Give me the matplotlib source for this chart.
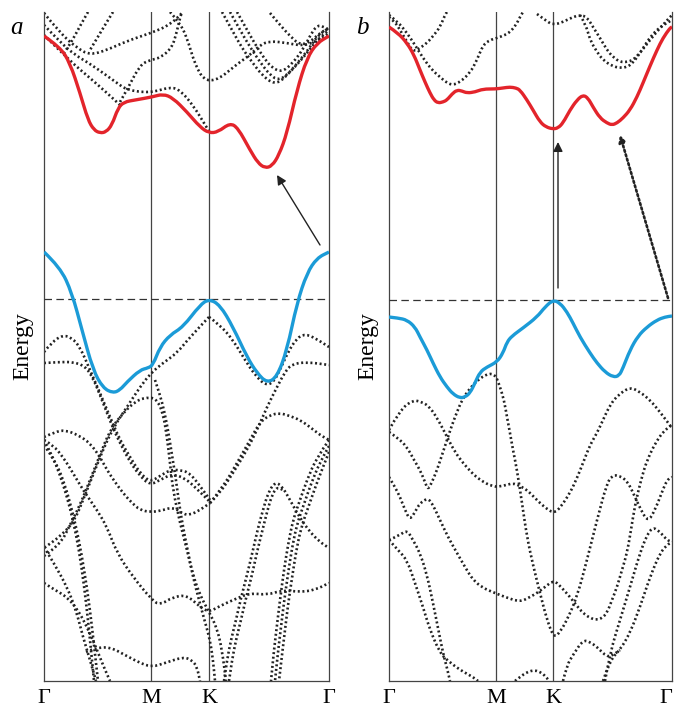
import numpy as np
import matplotlib
matplotlib.use("Agg")
import matplotlib.pyplot as plt
from matplotlib.path import Path
from matplotlib.patches import PathPatch

# k-path position (arbitrary units, Gamma = 0) and energy (eV, E_F = 0)
kticks_a = [0, 107, 165, 285]
kticks_b = [0, 107, 164, 283]
klabels = ["Γ", "M", "K", "Γ"]
elim_a = (-3.82, 2.87)
elim_b = (-3.81, 2.88)

# ---- panel a ----
cb_a = [(0, 2.63), (16, 2.52), (26, 2.36), (36, 2.06), (44, 1.79), (50, 1.69), (56, 1.66),
        (62, 1.67), (68, 1.74), (74, 1.91), (80, 1.97), (91, 1.99), (108, 2.02), (119, 2.05),
        (129, 2.01), (143, 1.87), (156, 1.72), (165, 1.66), (174, 1.67), (186, 1.76), (194, 1.71),
        (206, 1.49), (214, 1.36), (221, 1.31), (228, 1.33), (235, 1.44), (243, 1.66), (253, 2.09),
        (263, 2.41), (273, 2.56), (285, 2.63)]
vb_a = [(0, 0.47), (16, 0.32), (28, 0.06), (38, -0.31), (49, -0.71), (59, -0.89), (69, -0.94),
        (76, -0.91), (83, -0.83), (96, -0.71), (104, -0.69), (109, -0.66), (116, -0.48),
        (126, -0.36), (139, -0.28), (156, -0.06), (165, 0.0), (176, -0.06), (189, -0.28),
        (203, -0.58), (213, -0.74), (223, -0.84), (233, -0.78), (243, -0.51), (253, -0.04),
        (263, 0.26), (273, 0.41), (285, 0.47)]

bands_a = [
    # conduction side
    [(0, 2.86), (16, 2.66), (33, 2.51), (46, 2.44), (63, 2.49), (83, 2.58), (107, 2.66), (126, 2.74), (139, 2.87)],
    [(0, 2.74), (16, 2.57), (31, 2.44), (48, 2.34), (73, 2.16), (83, 2.09), (106, 2.06), (126, 2.12),
     (136, 2.09), (149, 1.94), (163, 1.71), (165, 1.68)],
    [(0, 2.64), (26, 2.38), (46, 2.21), (63, 2.06), (76, 1.94)],
    [(76, 1.97), (84, 2.11), (96, 2.34), (106, 2.39), (116, 2.41), (128, 2.51), (133, 2.68), (136, 2.81), (138, 2.87)],
    [(126, 2.87), (136, 2.76), (143, 2.61), (149, 2.41), (154, 2.29), (159, 2.21), (166, 2.18), (176, 2.21),
     (186, 2.29), (196, 2.37), (206, 2.44), (216, 2.54), (226, 2.58), (243, 2.56), (259, 2.53), (273, 2.58), (285, 2.66)],
    [(178, 2.87), (188, 2.69), (198, 2.51), (208, 2.37), (218, 2.24), (228, 2.16), (236, 2.17), (246, 2.27),
     (259, 2.41), (273, 2.59), (285, 2.69)],
    [(186, 2.87), (196, 2.69), (206, 2.52), (216, 2.37), (226, 2.24), (234, 2.19), (242, 2.23), (252, 2.34),
     (264, 2.49), (274, 2.64), (285, 2.71)],
    [(193, 2.87), (202, 2.71), (211, 2.55), (220, 2.41), (228, 2.31), (238, 2.27), (248, 2.35), (260, 2.51),
     (268, 2.67), (274, 2.74), (280, 2.72), (285, 2.69)],
    [(226, 2.86), (236, 2.74), (246, 2.63), (256, 2.54), (266, 2.57), (276, 2.66), (285, 2.71)],
    [(44, 2.87), (36, 2.73), (28, 2.58), (20, 2.46)],
    [(69, 2.87), (61, 2.74), (52, 2.59), (46, 2.49)],
    # valence side
    [(0, -0.53), (8, -0.43), (19, -0.36), (28, -0.39), (36, -0.48), (46, -0.71), (56, -0.94), (66, -1.18),
     (76, -1.41), (86, -1.58), (96, -1.74), (106, -1.83), (116, -1.77), (126, -1.71), (136, -1.71),
     (146, -1.74), (159, -1.91), (166, -2.01)],
    [(0, -0.64), (16, -0.63), (29, -0.63), (41, -0.67), (49, -0.79), (56, -0.96), (63, -1.14), (69, -1.29),
     (76, -1.44), (86, -1.63), (96, -1.77), (106, -1.86), (116, -1.81), (128, -1.75), (141, -1.79),
     (154, -1.91), (166, -2.03)],
    [(0, -1.38), (11, -1.33), (21, -1.31), (34, -1.36), (46, -1.44), (56, -1.58), (63, -1.71), (71, -1.83),
     (79, -1.94), (88, -2.04), (96, -2.11), (106, -2.13), (116, -2.12), (129, -2.08), (139, -2.15),
     (146, -2.16), (156, -2.11), (166, -2.04)],
    [(166, -2.04), (176, -1.94), (189, -1.74), (203, -1.51), (213, -1.31), (223, -1.08), (233, -0.88),
     (241, -0.73), (248, -0.65), (263, -0.63), (285, -0.66)],
    [(166, -2.04), (179, -1.88), (193, -1.64), (206, -1.41), (216, -1.23), (226, -1.16), (236, -1.14),
     (246, -1.17), (256, -1.21), (266, -1.28), (276, -1.36), (285, -1.41)],
    [(165, -0.18), (176, -0.26), (189, -0.41), (201, -0.61), (211, -0.76), (221, -0.86), (229, -0.84),
     (236, -0.71), (244, -0.53), (253, -0.39), (261, -0.35), (271, -0.39), (285, -0.48)],
    [(165, -0.18), (146, -0.38), (133, -0.54), (119, -0.64), (107, -0.74), (96, -0.88), (83, -1.08),
     (71, -1.26), (61, -1.46), (51, -1.71), (41, -1.96), (31, -2.21), (18, -2.36), (0, -2.49)],
    [(0, -2.57), (16, -2.46), (26, -2.26), (36, -2.06), (46, -1.81), (56, -1.56), (66, -1.31), (79, -1.14),
     (93, -1.01), (106, -0.98), (113, -1.01), (119, -1.14), (123, -1.38), (126, -1.64), (129, -1.91),
     (136, -2.24), (143, -2.51), (149, -2.76), (156, -2.96), (165, -3.13), (173, -3.29), (178, -3.51), (182, -3.82)],
    [(111, -0.81), (116, -0.96), (120, -1.11), (124, -1.31), (128, -1.56), (132, -1.81), (135, -2.04),
     (139, -2.28), (144, -2.53), (149, -2.78), (155, -3.01), (161, -3.23), (166, -3.41), (169, -3.61), (171, -3.82)],
    [(0, -1.41), (9, -1.46), (19, -1.58), (29, -1.74), (39, -1.91), (53, -2.11), (63, -2.28), (73, -2.54),
     (89, -2.78), (108, -3.01), (116, -3.06), (129, -2.98), (143, -2.96), (156, -3.08), (165, -3.13),
     (176, -3.07), (189, -3.01), (206, -2.94), (223, -2.96), (239, -2.91), (256, -2.93), (271, -2.91), (285, -2.84)],
    [(180, -3.82), (183, -3.61), (187, -3.41), (192, -3.21), (197, -2.99), (203, -2.76), (209, -2.51),
     (214, -2.29), (219, -2.11), (224, -1.94), (231, -1.83), (238, -1.87), (246, -2.01), (256, -2.19),
     (266, -2.33), (276, -2.43), (285, -2.49)],
    [(185, -3.82), (188, -3.61), (192, -3.41), (197, -3.21), (202, -2.99), (208, -2.76), (213, -2.53),
     (218, -2.33), (223, -2.13), (228, -1.96), (233, -1.88), (239, -1.91)],
    [(285, -1.41), (273, -1.58), (263, -1.81), (256, -2.01), (249, -2.21), (244, -2.46), (240, -2.71),
     (236, -3.01), (233, -3.26), (230, -3.51), (227, -3.82)],
    [(285, -1.47), (276, -1.63), (267, -1.85), (260, -2.05), (253, -2.25), (248, -2.49), (244, -2.75),
     (240, -3.03), (237, -3.28), (234, -3.53), (231, -3.82)],
    [(285, -1.53), (279, -1.68), (271, -1.89), (264, -2.09), (257, -2.29), (252, -2.53), (248, -2.79),
     (244, -3.06), (241, -3.31), (238, -3.56), (235, -3.82)],
    [(0, -1.41), (8, -1.56), (16, -1.76), (23, -1.98), (29, -2.21), (35, -2.51), (40, -2.86), (44, -3.21),
     (47, -3.51), (50, -3.82)],
    [(0, -1.46), (12, -1.63), (21, -1.86), (28, -2.11), (35, -2.41), (41, -2.76), (46, -3.11), (50, -3.46), (54, -3.82)],
    [(0, -2.48), (11, -2.66), (23, -2.88), (32, -3.11), (39, -3.38), (46, -3.61), (52, -3.82)],
    [(0, -2.84), (11, -2.91), (23, -2.98), (34, -3.11), (43, -3.28), (51, -3.46), (59, -3.66), (66, -3.82)],
    [(42, -3.53), (51, -3.49), (66, -3.48), (81, -3.56), (96, -3.64), (108, -3.68), (121, -3.64),
     (139, -3.58), (148, -3.61), (153, -3.68), (156, -3.82)],
]

# ---- panel b ----
cb_b = [(0, 2.73), (9, 2.67), (18, 2.57), (25, 2.45), (31, 2.30), (36, 2.18), (41, 2.07), (45, 2.00),
        (49, 1.97), (54, 1.98), (58, 2.00), (63, 2.06), (68, 2.10), (73, 2.09), (78, 2.07), (86, 2.08),
        (94, 2.11), (106, 2.11), (114, 2.12), (121, 2.13), (127, 2.12), (131, 2.10), (138, 2.00),
        (144, 1.90), (151, 1.78), (157, 1.73), (164, 1.71), (169, 1.72), (174, 1.77), (181, 1.90),
        (188, 2.00), (194, 2.05), (199, 2.02), (204, 1.93), (211, 1.82), (218, 1.77), (223, 1.75),
        (228, 1.77), (234, 1.82), (241, 1.90), (248, 2.03), (254, 2.17), (261, 2.34), (268, 2.50),
        (274, 2.62), (281, 2.72), (283, 2.73)]
vb_b = [(0, -0.17), (9, -0.18), (18, -0.20), (26, -0.27), (31, -0.37), (38, -0.50), (44, -0.63),
        (51, -0.77), (58, -0.87), (64, -0.94), (71, -0.98), (76, -0.97), (81, -0.93), (86, -0.83),
        (91, -0.72), (98, -0.67), (108, -0.62), (114, -0.53), (118, -0.42), (123, -0.36), (134, -0.28),
        (148, -0.17), (156, -0.07), (164, 0.0), (171, -0.03), (178, -0.12), (184, -0.23), (191, -0.37),
        (201, -0.53), (208, -0.63), (216, -0.72), (224, -0.77), (230, -0.76), (234, -0.68), (241, -0.50),
        (249, -0.36), (258, -0.27), (268, -0.20), (276, -0.17), (283, -0.16)]

bands_b = [
    [(0, 2.85), (9, 2.78), (18, 2.67), (26, 2.55), (34, 2.42), (43, 2.30), (51, 2.23), (58, 2.17),
     (64, 2.15), (71, 2.18), (81, 2.27), (88, 2.40), (94, 2.55), (101, 2.60), (108, 2.62), (116, 2.65),
     (121, 2.68), (127, 2.75), (131, 2.83), (134, 2.88)],
    [(0, 2.83), (6, 2.78), (11, 2.70), (17, 2.60), (24, 2.48), (31, 2.52), (38, 2.57), (45, 2.65),
     (51, 2.73), (56, 2.85), (58, 2.88)],
    [(148, 2.86), (156, 2.80), (164, 2.75), (174, 2.78), (184, 2.83), (191, 2.85), (198, 2.83), (204, 2.73),
     (211, 2.62), (218, 2.50), (224, 2.43), (231, 2.38), (238, 2.38), (244, 2.40), (251, 2.47), (261, 2.60),
     (271, 2.72), (283, 2.85)],
    [(191, 2.85), (197, 2.75), (201, 2.60), (208, 2.48), (214, 2.40), (223, 2.34), (231, 2.32), (238, 2.33),
     (244, 2.37), (253, 2.50), (261, 2.63), (271, 2.73), (283, 2.80)],
    [(0, -1.30), (11, -1.10), (24, -1.00), (33, -1.02), (41, -1.07), (51, -1.23), (58, -1.37), (66, -1.52),
     (74, -1.63), (83, -1.73), (91, -1.80), (104, -1.87), (114, -1.86), (124, -1.83), (131, -1.86),
     (138, -1.90), (146, -1.98), (151, -2.03), (158, -2.09), (165, -2.13), (171, -2.08), (181, -1.93),
     (188, -1.78), (194, -1.63), (201, -1.45), (208, -1.33), (214, -1.20), (221, -1.05), (229, -0.95),
     (241, -0.87), (251, -0.92), (261, -1.00), (271, -1.12), (283, -1.28)],
    [(0, -1.32), (9, -1.38), (18, -1.47), (25, -1.60), (31, -1.70), (36, -1.82), (39, -1.90), (43, -1.82),
     (48, -1.70), (53, -1.55), (58, -1.40), (63, -1.25), (68, -1.12), (73, -1.00), (81, -0.88), (91, -0.78),
     (101, -0.73), (107, -0.76), (111, -0.87), (115, -1.00), (118, -1.17), (121, -1.33), (124, -1.50),
     (128, -1.70), (133, -2.03), (138, -2.37), (144, -2.65), (151, -2.93), (158, -3.20), (165, -3.38),
     (171, -3.32), (178, -3.20), (188, -2.97), (198, -2.60), (208, -2.20), (218, -1.83), (223, -1.76),
     (228, -1.75), (238, -1.80), (246, -1.97), (252, -2.10), (259, -2.22), (266, -2.10), (273, -1.92),
     (278, -1.80), (283, -1.77)],
    [(0, -1.77), (6, -1.87), (11, -1.97), (16, -2.10), (21, -2.20), (26, -2.12), (31, -2.03), (39, -1.98),
     (44, -2.05), (51, -2.20), (59, -2.37), (68, -2.53), (76, -2.67), (84, -2.80), (94, -2.88), (106, -2.93),
     (116, -2.97), (131, -3.02), (141, -2.97), (148, -2.93), (156, -2.87), (165, -2.80), (173, -2.88),
     (181, -2.97), (188, -3.06), (194, -3.13), (201, -3.18), (208, -3.20), (213, -3.18), (218, -3.13),
     (223, -3.00), (228, -2.87), (233, -2.70), (238, -2.53), (242, -2.30), (246, -2.05), (252, -1.80),
     (258, -1.60), (268, -1.40), (276, -1.30), (283, -1.25)],
    [(216, -3.81), (221, -3.53), (231, -3.20), (241, -2.87), (251, -2.53), (258, -2.35), (264, -2.27),
     (271, -2.32), (278, -2.40), (283, -2.42)],
    [(214, -3.81), (221, -3.60), (231, -3.50), (241, -3.33), (251, -3.07), (261, -2.77), (271, -2.53),
     (278, -2.45), (283, -2.42)],
    [(174, -3.81), (178, -3.65), (184, -3.55), (194, -3.40), (201, -3.42), (208, -3.47), (218, -3.57),
     (224, -3.55), (231, -3.50)],
    [(0, -2.40), (11, -2.35), (18, -2.30), (24, -2.40), (31, -2.53), (38, -2.75), (44, -3.03), (49, -3.28),
     (54, -3.53), (58, -3.68), (61, -3.81)],
    [(0, -2.40), (9, -2.50), (18, -2.60), (26, -2.83), (34, -3.07), (41, -3.30), (51, -3.53), (58, -3.60),
     (71, -3.70), (84, -3.77), (89, -3.81)],
    [(126, -3.81), (131, -3.77), (138, -3.72), (146, -3.70), (153, -3.73), (158, -3.78), (160, -3.81)],
]

# transitions: (tail, head)
arrow_a = ((276, 0.54), (233, 1.24))
arrow_b_direct = ((169, 0.12), (169, 1.58))
arrow_b_indirect = ((279, 0.02), (231, 1.65))

RED = "#e3242b"
BLUE = "#1b9bd7"
DOT = "#222222"
DOTS = (0, (0.75, 1.0))

plt.rcParams["font.family"] = ["Liberation Serif", "DejaVu Serif"]

fig = plt.figure(figsize=(6.76, 7.10), dpi=100)
ax_a = fig.add_axes([44 / 676, 29 / 710, 285 / 676, 669 / 710])
ax_b = fig.add_axes([389 / 676, 29 / 710, 283 / 676, 669 / 710])


def smooth_curve(ax, pts, **kw):
    # quadratic Bezier through the midpoints, the read points act as control points
    p = np.asarray(pts, dtype=float)
    verts = [p[0]]
    codes = [Path.MOVETO]
    for i in range(1, len(p) - 1):
        verts += [p[i], (p[i] + p[i + 1]) / 2]
        codes += [Path.CURVE3, Path.CURVE3]
    verts.append(p[-1])
    codes.append(Path.LINETO)
    ax.add_patch(PathPatch(Path(verts, codes), fill=False, capstyle="butt",
                           joinstyle="round", **kw))


def draw_panel(ax, kt, elim, bands, cb, vb, letter):
    for band in bands:
        smooth_curve(ax, band, edgecolor=DOT, lw=1.9, linestyle=DOTS, zorder=2)
    smooth_curve(ax, cb, edgecolor=RED, lw=2.4, zorder=4)
    smooth_curve(ax, vb, edgecolor=BLUE, lw=2.4, zorder=4)
    ax.axhline(0, color="#333333", lw=0.9, linestyle=(0, (6, 3.5)), zorder=3)
    for kv in kt[1:-1]:
        ax.axvline(kv, color="#444444", lw=0.9, zorder=1)
    ax.set_xlim(kt[0], kt[-1])
    ax.set_ylim(*elim)
    ax.set_xticks(kt)
    ax.set_xticklabels(klabels, fontsize=16)
    ax.set_yticks([])
    ax.tick_params(axis="x", length=0, pad=6)
    ax.spines["top"].set_visible(False)
    for s in ["left", "right", "bottom"]:
        ax.spines[s].set_color("#444444")
        ax.spines[s].set_linewidth(0.9)
    ax.set_ylabel("Energy", fontsize=17, labelpad=8)
    ax.text(-0.095, 0.976, letter, transform=ax.transAxes, fontsize=18,
            style="italic", ha="center", va="center")


draw_panel(ax_a, kticks_a, elim_a, bands_a, cb_a, vb_a, "a")
draw_panel(ax_b, kticks_b, elim_b, bands_b, cb_b, vb_b, "b")

# the last Γ of panel b sits at the figure edge: anchor it by its right side
ax_b.get_xticklabels()[-1].set_horizontalalignment("right")

ax_a.annotate("", xy=arrow_a[1], xytext=arrow_a[0],
              arrowprops=dict(arrowstyle="-|>", color="#222222", lw=1.0, mutation_scale=14,
                              shrinkA=0, shrinkB=0))
ax_b.annotate("", xy=arrow_b_direct[1], xytext=arrow_b_direct[0],
              arrowprops=dict(arrowstyle="-|>", color="#222222", lw=1.0, mutation_scale=14,
                              shrinkA=0, shrinkB=0))
ax_b.annotate("", xy=arrow_b_indirect[1], xytext=arrow_b_indirect[0],
              arrowprops=dict(arrowstyle="-|>", color="#222222", lw=1.9,
                              linestyle=DOTS, mutation_scale=10,
                              shrinkA=0, shrinkB=0))

fig.savefig("out.png", dpi=100)
